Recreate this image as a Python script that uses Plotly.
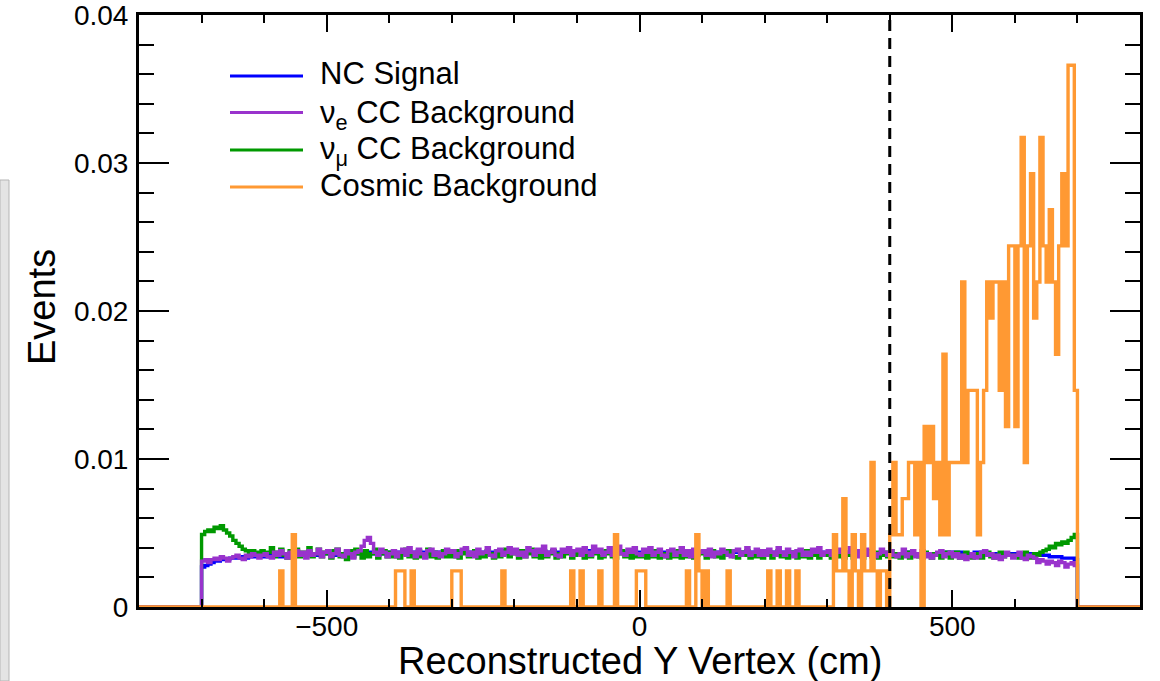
import plotly.graph_objects as go

# ---------------- data ----------------
# bins: 5 cm wide, data from -700 to 700 cm (280 bins); axis spans -800..800
BIN_LO = -700
BIN_W = 5
AXIS_LO, AXIS_HI = -800, 800
UNIT = 1e-4              # background values are given in units of 1e-4 events
COSMIC_WEIGHT = 0.00244  # weight of one cosmic event

NC_SIGNAL = [
    27,28,29,30,31,31,32,32,32,33,33,33,33,34,33,34,34,34,34,34,
    34,35,34,35,35,34,35,35,35,36,35,35,36,35,36,36,35,36,36,36,
    36,36,35,36,36,36,37,36,36,36,36,37,36,37,36,36,37,36,37,36,
    37,36,37,37,36,37,37,37,36,37,37,36,37,37,37,37,36,37,37,37,
    37,37,36,37,37,37,37,38,37,37,36,37,37,37,37,37,38,37,37,37,
    37,37,38,37,37,37,37,37,36,37,37,37,38,37,37,37,37,38,37,37,
    37,37,37,37,38,37,37,37,37,37,37,38,37,37,37,37,37,37,37,37,
    37,37,37,38,37,37,36,37,37,37,37,37,37,37,38,37,37,37,36,37,
    37,37,37,37,37,36,37,37,37,37,38,37,37,37,37,37,37,37,37,36,
    37,37,37,37,36,37,37,37,37,37,37,37,36,37,37,36,37,37,37,36,
    36,37,36,36,37,36,36,36,36,36,36,36,36,36,36,36,36,37,36,36,
    36,36,36,36,36,36,37,36,36,36,36,36,36,36,36,35,36,36,37,36,
    37,37,37,36,36,36,36,37,37,37,37,36,36,36,35,35,35,35,36,36,
    36,36,36,36,36,36,36,35,35,35,35,34,34,34,34,33,33,33,33,32,
]

NUE_CC = [
    31,32,30,32,33,32,34,33,31,33,34,35,33,32,35,34,36,35,33,35,
    36,34,33,37,35,38,36,33,37,34,38,35,37,33,38,35,36,39,34,37,
    38,34,36,39,35,34,38,36,33,37,38,41,45,47,43,37,35,39,37,34,
    36,38,34,37,39,35,40,37,34,39,36,33,38,39,35,37,34,36,39,37,
    38,34,36,39,40,35,37,34,39,36,37,40,35,34,38,39,35,37,40,36,
    39,35,37,34,40,38,35,39,37,41,35,37,39,35,34,39,37,40,35,38,
    39,35,40,37,35,41,37,39,35,37,40,35,39,41,36,35,39,37,40,36,
    35,39,37,40,35,37,39,35,34,38,39,35,37,40,35,38,34,39,36,37,
    38,35,39,34,37,36,39,37,35,34,38,39,35,37,40,35,37,39,35,38,
    35,39,37,35,40,37,35,39,37,34,38,39,35,37,35,39,37,40,35,37,
    38,35,34,37,39,35,37,40,35,34,38,35,39,35,37,34,36,39,37,35,
    38,35,34,36,39,34,36,38,34,36,38,34,36,33,35,37,38,34,36,37,
    34,36,33,35,32,34,36,33,34,37,38,35,36,33,35,32,34,37,35,33,
    35,37,33,32,35,34,33,30,32,31,29,31,30,28,31,30,27,29,30,28,
]

NUMU_CC = [
    49,51,52,51,54,53,55,52,50,48,45,43,41,39,38,36,38,35,37,38,
    35,37,40,34,37,39,35,33,38,35,39,34,37,35,40,34,36,39,34,37,
    36,33,38,39,34,36,32,38,34,39,36,33,38,34,36,39,33,36,38,34,
    37,34,36,33,38,39,34,36,33,38,34,36,39,34,37,33,36,38,34,36,
    34,38,33,36,39,34,36,38,33,36,34,38,36,33,38,34,36,39,34,36,
    36,33,38,34,36,39,34,36,33,38,34,36,38,33,36,34,38,36,33,35,
    36,38,33,36,34,38,36,33,34,38,36,34,33,36,38,34,36,33,38,34,
    34,36,33,37,34,38,33,36,34,33,37,34,38,33,36,34,37,33,35,36,
    37,33,35,38,34,36,33,35,38,36,34,33,37,35,38,33,36,34,37,33,
    35,37,33,35,38,34,36,33,37,35,33,36,34,38,33,35,37,33,35,36,
    35,33,37,34,38,33,35,37,33,35,37,33,35,38,34,37,33,35,37,34,
    38,34,36,33,35,37,33,35,36,34,33,37,35,33,36,35,33,35,37,33,
    35,37,33,35,37,34,33,36,35,33,35,37,34,33,35,37,34,36,35,35,
    35,33,35,37,34,33,36,35,37,38,39,41,40,43,42,44,43,45,47,49,
]

COSMIC_COUNTS = [
    0,0,0,0,0,0,0,0,0,0,0,0,0,0,0,0,0,0,0,0,
    0,0,0,0,0,1,0,0,0,2,0,0,0,0,0,0,0,0,0,0,
    0,0,0,0,0,0,0,0,0,0,0,0,0,0,0,0,0,0,0,0,
    0,0,1,1,1,0,0,1,0,0,0,0,0,0,0,0,0,0,0,0,
    1,1,1,0,0,0,0,0,0,0,0,0,0,0,0,0,1,0,0,0,
    0,0,0,0,0,0,0,0,0,0,0,0,0,0,0,0,0,0,1,0,
    0,1,0,0,0,0,0,1,0,0,0,0,2,0,0,0,0,0,0,1,
    1,1,0,0,0,0,0,0,0,0,0,0,0,0,0,1,0,0,2,1,
    0,1,0,0,0,0,0,0,1,0,0,0,0,0,0,0,0,0,0,0,
    0,1,0,0,1,0,0,1,0,0,1,0,0,0,0,0,0,0,0,0,
    0,0,2,1,1,3,1,0,2,1,0,2,1,1,4,1,0,1,1,0,
    2,4,2,2,3,3,4,4,2,4,0,5,4,5,3,4,2,7,2,4,
    4,4,4,9,4,6,6,6,2,4,6,9,8,9,9,6,9,5,10,10,
    5,10,13,4,10,12,8,9,13,10,9,11,9,7,10,12,10,15,15,6,
]

CUT_POSITION = 400  # cm, dashed line

SERIES = [
    ("NC Signal", NC_SIGNAL, UNIT, "#0000ff"),
    ("ν<sub>μ</sub> CC Background", NUMU_CC, UNIT, "#009900"),
    ("ν<sub>e</sub> CC Background", NUE_CC, UNIT, "#9933cc"),
    ("Cosmic Background", COSMIC_COUNTS, COSMIC_WEIGHT, "#ff9933"),
]
LEGEND_ORDER = [
    ("NC Signal", "#0000ff"),
    ("ν<sub>e</sub> CC Background", "#9933cc"),
    ("ν<sub>μ</sub> CC Background", "#009900"),
    ("Cosmic Background", "#ff9933"),
]

# ---------------- figure ----------------
n_pad_lo = (BIN_LO - AXIS_LO) // BIN_W
n_data = len(NC_SIGNAL)
n_pad_hi = (AXIS_HI - (BIN_LO + n_data * BIN_W)) // BIN_W
n_total = n_pad_lo + n_data + n_pad_hi
edges = [AXIS_LO + i * BIN_W for i in range(n_total + 1)]

fig = go.Figure()
for name, vals, scale, color in SERIES:
    full = [0.0] * n_pad_lo + [v * scale for v in vals] + [0.0] * n_pad_hi
    y = full + [full[-1]]
    fig.add_trace(go.Scatter(
        x=edges, y=y, mode="lines", line_shape="hv", name=name,
        line=dict(color=color, width=3.4), showlegend=False,
        hoverinfo="skip",
    ))

# plot area in pixels
L, R, T, B = 139, 1140, 15, 607
PW, PH = R - L, B - T


def px(xp):
    return (xp - L) / PW


def py(yp):
    return (B - yp) / PH


shapes = [
    dict(type="line", xref="x", yref="paper", x0=CUT_POSITION, x1=CUT_POSITION,
         y0=0, y1=1, line=dict(color="black", width=3, dash="11px,7px"), layer="above"),
    # grey strip at the far left of the image
    dict(type="rect", xref="paper", yref="paper", x0=px(0), x1=px(9), y0=py(681), y1=py(180),
         fillcolor="#e4e4e4", line=dict(color="#b5b5b5", width=1), layer="above"),
]

annotations = []
leg_line_y = [76, 112.5, 150, 187]
leg_text_y = [73, 115, 151, 185]
for (label, color), ly, ty in zip(LEGEND_ORDER, leg_line_y, leg_text_y):
    shapes.append(dict(type="line", xref="paper", yref="paper",
                       x0=px(230), x1=px(303), y0=py(ly), y1=py(ly),
                       line=dict(color=color, width=3)))
    annotations.append(dict(xref="paper", yref="paper", x=px(318), y=py(ty),
                            xanchor="left", yanchor="middle", showarrow=False,
                            text=label, font=dict(size=31, color="black")))

annotations.append(dict(xref="paper", yref="paper", x=px(640), y=py(661),
                        xanchor="center", yanchor="middle", showarrow=False,
                        text="Reconstructed Y Vertex (cm)", font=dict(size=38, color="black")))
annotations.append(dict(xref="paper", yref="paper", x=px(42), y=py(307),
                        xanchor="center", yanchor="middle", showarrow=False, textangle=-90,
                        text="Events", font=dict(size=38, color="black")))

fig.update_layout(
    width=1160, height=681,
    margin=dict(l=L, r=1160 - R, t=T, b=681 - B, autoexpand=False),
    paper_bgcolor="white", plot_bgcolor="white",
    font=dict(family="Liberation Sans, Arial, Helvetica, sans-serif", color="black"),
    showlegend=False,
    shapes=shapes, annotations=annotations,
    xaxis=dict(
        range=[AXIS_LO, AXIS_HI], tickvals=[-500, 0, 500], automargin=False,
        ticks="inside", ticklen=17, tickwidth=2, tickcolor="black",
        showline=True, linewidth=3, linecolor="black", mirror="allticks",
        showgrid=False, zeroline=False, tickfont=dict(size=28),
        ticklabelstandoff=-8, ticklabeloverflow="allow",
        minor=dict(dtick=100, tick0=0, ticks="inside", ticklen=8, tickwidth=2,
                   tickcolor="black", showgrid=False),
    ),
    yaxis=dict(
        range=[0, 0.04], dtick=0.01, automargin=False,
        ticks="inside", ticklen=30, tickwidth=2, tickcolor="black",
        showline=True, linewidth=3, linecolor="black", mirror="allticks",
        showgrid=False, zeroline=False, tickfont=dict(size=28),
        ticklabelstandoff=2, ticklabeloverflow="allow",
        minor=dict(dtick=0.002, ticks="inside", ticklen=15, tickwidth=2,
                   tickcolor="black", showgrid=False),
    ),
)

fig.write_html("out.html")
